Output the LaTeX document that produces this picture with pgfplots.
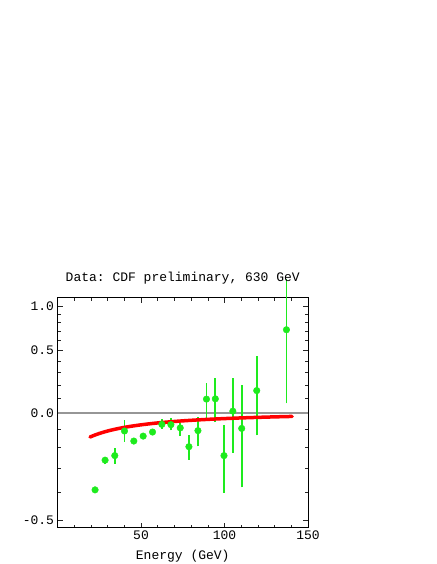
\documentclass[border=0pt]{standalone}
\usepackage{fontspec}
\setmonofont{Liberation Mono}
\usepackage{pgfplots}
\pgfplotsset{compat=1.18}
\definecolor{dgreen}{RGB}{30,235,30}
\definecolor{zgray}{RGB}{150,150,150}
\newcommand{\cf}{\ttfamily\fontsize{13}{15}\selectfont}
\begin{document}
\begin{tikzpicture}
\path[use as bounding box] (0,0) rectangle (436pt,564pt);
\begin{axis}[
  at={(57.5pt,36.3pt)}, anchor=south west,
  scale only axis, width=250.5pt, height=230pt,
  xmin=0, xmax=150, ymin=-0.524, ymax=1.109,
  y coord trafo/.code={\pgfmathparse{ln(1+#1)}},
  y coord inv trafo/.code={\pgfmathparse{exp(#1)-1}},
  xtick={50,100,150}, xticklabels={50,100,150},
  minor xtick={10,20,30,40,60,70,80,90,110,120,130,140},
  ytick={-0.5,0,0.5,1}, yticklabels={-0.5,0.0,0.5,1.0},
  minor ytick={-0.4,-0.3,-0.2,-0.1,0.1,0.2,0.3,0.4,0.6,0.7,0.8,0.9},
  tick align=inside, major tick length=5pt, minor tick length=3pt,
  tick style={black!85, line width=0.6pt},
  axis line style={line width=0.8pt},
  tick label style={font=\cf, black},
  title={Data: CDF preliminary, 630 GeV},
  title style={font=\cf, at={(axis description cs:0.5,1)}, anchor=base, yshift=10.4pt},
  xlabel={Energy (GeV)},
  xlabel style={font=\cf, at={(axis description cs:0.5,0)}, anchor=base, yshift=-31.5pt},
  clip=false,
]
% zero line
\addplot[zgray, line width=1.6pt, forget plot] coordinates {(0,0) (150,0)};
% error bars
\addplot[dgreen, line width=1.8pt, forget plot] coordinates {(28.5,-0.283) (28.5,-0.247)};
\addplot[dgreen, line width=1.8pt, forget plot] coordinates {(34.3,-0.279) (34.3,-0.203)};
\addplot[dgreen, line width=1.8pt, forget plot] coordinates {(40.1,-0.171) (40.1,-0.047)};
\addplot[dgreen, line width=1.8pt, forget plot] coordinates {(62.5,-0.097) (62.5,-0.041)};
\addplot[dgreen, line width=1.8pt, forget plot] coordinates {(67.9,-0.106) (67.9,-0.029)};
\addplot[dgreen, line width=1.8pt, forget plot] coordinates {(73.5,-0.139) (73.5,-0.061)};
\addplot[dgreen, line width=1.8pt, forget plot] coordinates {(78.7,-0.260) (78.7,-0.135)};
\addplot[dgreen, line width=1.8pt, forget plot] coordinates {(84.1,-0.194) (84.1,-0.025)};
\addplot[dgreen, line width=1.8pt, forget plot] coordinates {(89.2,-0.030) (89.2,0.214)};
\addplot[dgreen, line width=1.8pt, forget plot] coordinates {(94.5,-0.057) (94.5,0.254)};
\addplot[dgreen, line width=1.8pt, forget plot] coordinates {(99.7,-0.403) (99.7,-0.077)};
\addplot[dgreen, line width=1.8pt, forget plot] coordinates {(105.0,-0.228) (105.0,0.254)};
\addplot[dgreen, line width=1.8pt, forget plot] coordinates {(110.3,-0.382) (110.3,0.196)};
\addplot[dgreen, line width=1.8pt, forget plot] coordinates {(119.3,-0.135) (119.3,0.447)};
\addplot[dgreen, line width=1.8pt, forget plot] coordinates {(137.1,0.065) (137.1,1.380)};
% data points
\addplot[only marks, mark=*, mark size=3.3pt, color=dgreen, mark options={draw=dgreen, fill=dgreen}] coordinates {
(22.5,-0.392) (28.5,-0.263) (34.3,-0.241) (40.1,-0.110) (45.7,-0.166)
(51.3,-0.139) (56.9,-0.116) (62.5,-0.071) (67.9,-0.073) (73.5,-0.092)
(78.7,-0.196) (84.1,-0.108) (89.2,0.094) (94.5,0.096) (99.7,-0.241)
(105.0,0.012) (110.3,-0.095) (119.3,0.156) (137.1,0.714)
};
% fit curve
\addplot[red, line width=3.5pt, smooth, line cap=round] coordinates {
(19.5,-0.1440) (22,-0.1344) (25,-0.1243) (28.5,-0.1141) (32,-0.1053) (36,-0.0966)
(40,-0.0890) (45,-0.0808) (51,-0.0725) (57,-0.0654) (62.5,-0.0599) (68,-0.0550)
(73.5,-0.0507) (80,-0.0463) (87,-0.0421) (94.5,-0.0381) (102,-0.0347) (110,-0.0314)
(118,-0.0286) (126,-0.0260) (133,-0.0240) (140.5,-0.0220)
};
\end{axis}
\end{tikzpicture}
\end{document}
